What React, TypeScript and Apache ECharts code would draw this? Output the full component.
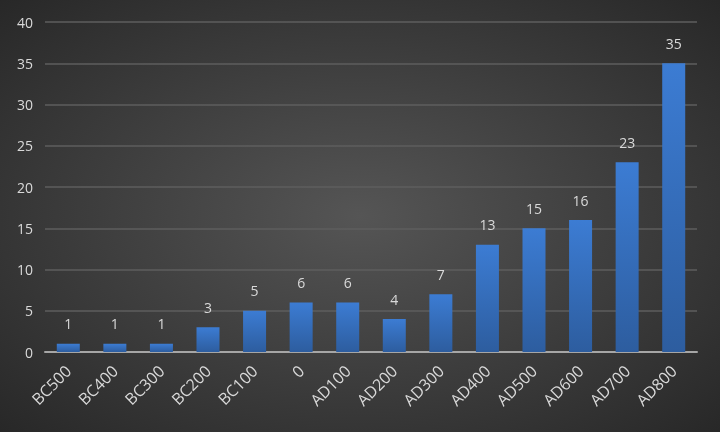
import React, { useEffect, useRef } from "react";
import * as echarts from "echarts";

const categories = ["BC500", "BC400", "BC300", "BC200", "BC100", "0", "AD100", "AD200", "AD300", "AD400", "AD500", "AD600", "AD700", "AD800"];
const values = [1, 1, 1, 3, 5, 6, 6, 4, 7, 13, 15, 16, 23, 35];

export default function App() {
  const ref = useRef<HTMLDivElement>(null);
  useEffect(() => {
    const chart = echarts.init(ref.current!, null, { renderer: "svg" });
    chart.setOption({
      animation: false,
      backgroundColor: {
        type: "radial", x: 0.5, y: 0.5, r: 0.75,
        colorStops: [
          { offset: 0, color: "#555555" },
          { offset: 1, color: "#252525" },
        ],
      },
      textStyle: { fontFamily: "Open Sans" },
      grid: { left: 45, right: 23, top: 22, bottom: 80 },
      xAxis: {
        type: "category",
        data: categories,
        axisLine: { lineStyle: { color: "#a6a6a6", width: 2 } },
        axisTick: { show: false },
        axisLabel: { color: "#d9d9d9", fontSize: 16, rotate: 45, margin: 16, interval: 0 },
      },
      yAxis: {
        type: "value",
        min: 0, max: 40, interval: 5,
        axisLine: { show: false },
        axisTick: { show: false },
        axisLabel: { color: "#d9d9d9", fontSize: 14, margin: 12 },
        splitLine: { lineStyle: { color: "#5e5e5e", width: 1.5 } },
      },
      series: [{
        type: "bar",
        data: values,
        barWidth: 23,
        itemStyle: {
          color: {
            type: "linear", x: 0, y: 0, x2: 0, y2: 1,
            colorStops: [
              { offset: 0, color: "#3c7cd3" },
              { offset: 1, color: "#2d5d9f" },
            ],
          },
        },
        label: { show: true, position: "top", distance: 13, color: "#d9d9d9", fontSize: 14 },
      }],
    });
    return () => chart.dispose();
  }, []);
  return <div ref={ref} style={{ width: 720, height: 432, position: "fixed", left: 0, top: 0 }} />;
}
